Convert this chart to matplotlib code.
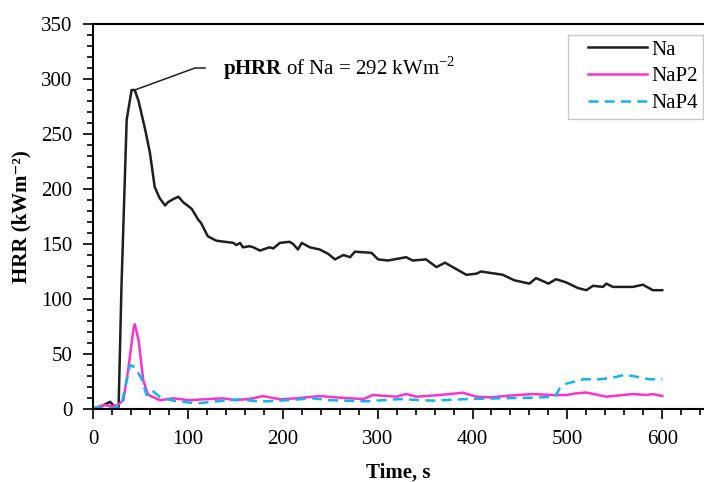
import numpy as np
import matplotlib
matplotlib.use('Agg')
import matplotlib.pyplot as plt
from matplotlib.ticker import MultipleLocator
from matplotlib.legend_handler import HandlerLine2D

plt.rcParams['font.family'] = ['Liberation Serif', 'DejaVu Serif']
plt.rcParams['font.size'] = 15
plt.rcParams['mathtext.fontset'] = 'custom'
plt.rcParams['mathtext.rm'] = 'Liberation Serif'
plt.rcParams['mathtext.bf'] = 'Liberation Serif:bold'

# Na (black) - time (s), HRR (kWm-2)
na_t = [0, 10, 18, 23, 27, 30, 35.5, 40.7, 44, 48, 55, 60, 65, 70, 76, 79, 85, 90, 95, 104, 111, 114,
        121, 130, 148, 151, 155, 158, 165, 169, 176, 186, 190, 197, 207, 211, 216, 220, 228.5, 239,
        248, 255, 264, 271, 276, 293.5, 300.5, 311, 330, 337, 351, 362, 371, 393.5, 404, 409, 432,
        444, 460, 467, 480, 488, 499, 511, 520, 527, 537.5, 541, 548, 569, 579.6, 590, 600]
na_hrr = [0, 3, 6.5, 2, 2, 111, 263, 290, 290, 280, 254, 233, 202, 192, 185, 188, 191, 193, 188, 182,
          172, 169, 157, 153, 151, 149, 151, 147, 148, 147, 144, 147, 146, 151, 152, 150, 145, 151,
          147, 145, 141, 136, 140, 138, 143, 142, 136, 135, 138, 135, 136, 129, 133, 122, 123, 125,
          122, 117, 114, 119, 114, 118, 115, 110, 108, 112, 111, 114, 111, 111, 113, 108, 108]

# NaP2 (magenta)
p2_t = [0, 11, 18, 25, 32, 37, 42.5, 44, 48, 53, 58, 70.5, 84.5, 102, 116, 137, 151, 169, 179, 197,
        214.5, 239, 260, 285, 295, 320, 330, 341, 365.5, 390, 404, 418, 442.7, 463.8, 484.8, 499,
        509, 520, 541, 555, 569, 583, 590, 600]
p2_hrr = [0, 3.6, 2.7, 3, 8, 35, 72, 77, 63, 26, 13, 8, 9.7, 8, 8.8, 9.7, 8, 9.7, 11.8, 8.8,
          9.7, 11.8, 10.3, 9, 12.7, 11.2, 13.6, 11.2, 12.7, 14.8, 11.2, 10.6, 12.4, 13.6, 12.7, 12.7,
          14.2, 15, 11.2, 12.4, 13.6, 12.7, 13.6, 11.8]

# NaP4 (cyan, dashed)
p4_t = [0, 21, 30, 35.5, 39, 44, 51, 56.5, 62, 70.5, 84.5, 109, 126.7, 155, 176, 204, 232, 249.6,
        288, 323, 358, 393.5, 428.6, 464, 487, 492, 499, 516.5, 534, 548, 560, 569, 586.6, 600]
p4_hrr = [1.5, 0.6, 3.6, 26, 40, 38, 28, 12.7, 17, 11, 7.6, 5, 6.7, 8.8, 6.7, 8, 9.7, 8,
          7, 9, 7.6, 9, 9.7, 10.3, 11.2, 18.8, 23, 27, 27, 28.5, 31, 30, 27, 27]

fig = plt.figure(figsize=(7.04, 4.82), dpi=100)
ax = fig.add_axes([93 / 704, 73 / 482, 1 - 93 / 704, 385 / 482])

ax.plot(na_t, na_hrr, color='#1f1f1f', lw=1.8, label='Na')
ax.plot(p2_t, p2_hrr, color='#ff33cc', lw=1.8, label='NaP2')
ax.plot(p4_t, p4_hrr, color='#12b4f0', lw=1.8, ls=(0, (4, 2.5)), label='NaP4')

# peak annotation
ax.plot([44, 107.5, 118], [290, 310, 310], color='#1f1f1f', lw=1.1)
ax.text(137, 310, r'$\mathbf{pHRR}$ of Na = 292 kWm$^{\mathrm{-2}}$', va='center', ha='left')

ax.set_xlim(0, 644)
ax.set_ylim(0, 350)
ax.xaxis.set_major_locator(MultipleLocator(100))
ax.xaxis.set_minor_locator(MultipleLocator(20))
ax.yaxis.set_major_locator(MultipleLocator(50))
ax.yaxis.set_minor_locator(MultipleLocator(10))
ax.tick_params(which='major', direction='out', length=7, width=1.2)
ax.tick_params(which='minor', direction='out', length=4, width=1.2)
ax.tick_params(axis='x', which='major', pad=8)
ax.tick_params(axis='y', which='major', pad=8)
for s in ['left', 'bottom', 'top']:
    ax.spines[s].set_linewidth(1.5)
ax.spines['right'].set_visible(False)

ax.set_xlabel('Time, s', fontweight='bold', labelpad=10)
ax.set_ylabel('HRR (kWm\u207b\u00b2)', fontweight='bold', labelpad=7)

leg = ax.legend(loc='upper right', bbox_to_anchor=(0.998, 0.972), frameon=True, fancybox=False,
                edgecolor='#bbbbbb', handlelength=3.55, handletextpad=0.2, borderpad=0.25,
                labelspacing=0.35, borderaxespad=0,
                handler_map={plt.Line2D: HandlerLine2D(xpad=0.72)})
leg.get_frame().set_linewidth(1.0)

fig.savefig('out.png', dpi=100)
